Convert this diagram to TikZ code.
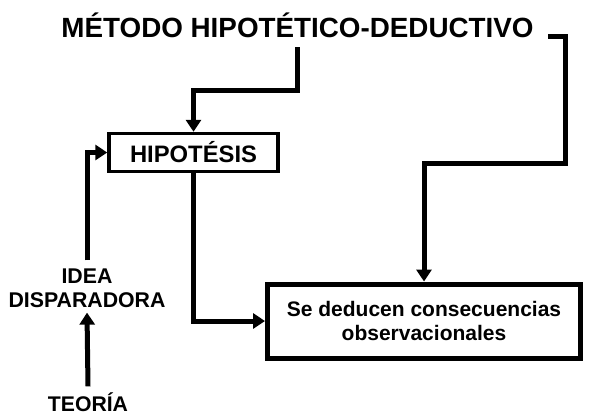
\documentclass[tikz,border=0pt]{standalone}
\usepackage{fontspec}
\setmainfont{Liberation Sans}
\usetikzlibrary{arrows.meta}

\begin{document}
\begin{tikzpicture}[
									x = 1pt,
									y = -1pt,
									line/.style = {
										line width = 5pt,
										line cap = butt,
										line join = miter
									},
									arr/.style = {
										line,
										-{Triangle[length = 12pt, width = 15pt]}
									},
									box/.style = {
										draw,
										rectangle,
										inner sep = 0,
										align = center,
										font = \bfseries
									},
									lbl/.style = {
										inner sep = 0,
										align = center,
										font = \bfseries
									}
								]
							\useasboundingbox (0, 0) rectangle (591, 418);

							\node [lbl, font = \fontsize{27.8}{32}\bfseries] (title) at (297.5, 25) {MÉTODO HIPOTÉTICO-DEDUCTIVO};

							\node [box, line width = 3.5pt, minimum width = 169pt, minimum height = 38pt,
								font = \fontsize{23.8}{28}\bfseries] (hip) at (193.5, 152.5) {HIPOTÉSIS};

							\node [box, line width = 5pt, minimum width = 313pt, minimum height = 74pt,
								font = \fontsize{21}{24}\bfseries] (ded) at (424, 321) {Se deducen consecuencias\\observacionales};

							\node [lbl, font = \fontsize{21.3}{24}\bfseries] (idea) at (87, 288) {IDEA\\DISPARADORA};

							\node [lbl, font = \fontsize{21.2}{25}\bfseries] (teoria) at (88, 402) {TEORÍA};

							\coordinate (t1) at (297.5, 47);
							\coordinate (t2) at (548, 36);

							\draw [arr] (t1) -- (297.5, 90) -| (hip.north);
							\draw [arr] (t2) -| (565, 163) -| (ded.north);
							\draw [arr] (hip.south) |- (ded.west);
							\draw [arr] (idea.north) ++(0, -8) |- (hip.west);
							\draw [arr] (teoria.north) ++(0, -6) -- ([yshift = -5pt] idea.south);
						\end{tikzpicture}
\end{document}
